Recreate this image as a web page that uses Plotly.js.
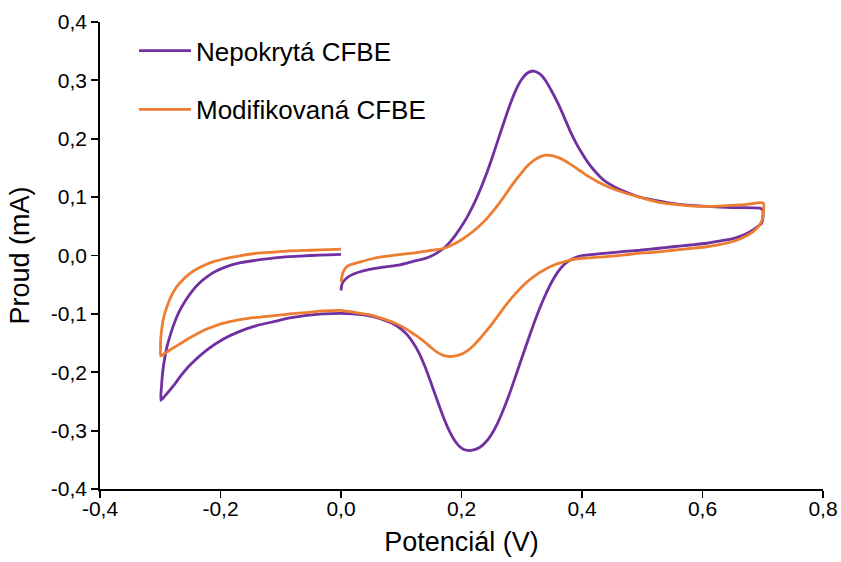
<!DOCTYPE html>
<html>
<head>
<meta charset="utf-8">
<script src="https://cdn.plot.ly/plotly-3.0.1.min.js"></script>
<style>html,body{margin:0;padding:0;background:#fff;}#chart{width:841px;height:562px;}</style>
</head>
<body>
<div id="chart"></div>
<script>
// Nepokrytá CFBE (purple): forward 0 -> 0.7, reverse 0.7 -> -0.3, forward -0.3 -> 0
const nepokrytaX = [0.000,0.002,0.009,0.020,0.042,0.070,0.098,0.120,0.140,0.150,0.160,0.170,0.180,0.190,0.200,0.210,0.220,0.230,0.240,0.250,0.260,0.270,0.280,0.290,0.300,0.310,0.320,0.330,0.340,0.350,0.360,0.370,0.380,0.390,0.400,0.410,0.420,0.430,0.440,0.455,0.470,0.496,0.524,0.551,0.580,0.607,0.650,0.695,0.700,
  0.700,0.698,0.692,0.684,0.670,0.651,0.630,0.607,0.580,0.551,0.524,0.496,0.470,0.441,0.420,0.410,0.400,0.390,0.380,0.370,0.360,0.350,0.340,0.330,0.320,0.310,0.300,0.290,0.280,0.270,0.260,0.250,0.240,0.230,0.220,0.210,0.200,0.190,0.180,0.170,0.160,0.150,0.140,0.130,0.120,0.110,0.100,0.090,0.080,0.065,0.045,0.020,0.000,-0.030,-0.060,-0.085,-0.110,-0.140,-0.168,-0.195,-0.223,-0.251,-0.265,-0.278,-0.290,-0.296,-0.299,
  -0.298,-0.296,-0.293,-0.289,-0.283,-0.276,-0.268,-0.258,-0.247,-0.235,-0.222,-0.208,-0.190,-0.170,-0.140,-0.110,-0.085,-0.050,-0.020,0.000];
const nepokrytaY = [-0.060,-0.048,-0.039,-0.032,-0.025,-0.020,-0.016,-0.010,-0.005,-0.001,0.005,0.012,0.022,0.035,0.050,0.067,0.087,0.110,0.136,0.165,0.196,0.227,0.257,0.283,0.302,0.313,0.316,0.311,0.299,0.281,0.261,0.238,0.214,0.193,0.175,0.159,0.146,0.135,0.126,0.117,0.110,0.100,0.094,0.089,0.086,0.084,0.082,0.081,0.078,
  0.062,0.055,0.050,0.044,0.036,0.029,0.025,0.021,0.018,0.015,0.012,0.009,0.007,0.004,0.002,0.001,0.000,-0.003,-0.008,-0.016,-0.028,-0.045,-0.066,-0.090,-0.117,-0.146,-0.176,-0.206,-0.236,-0.263,-0.287,-0.306,-0.320,-0.329,-0.333,-0.334,-0.330,-0.319,-0.301,-0.277,-0.249,-0.220,-0.192,-0.168,-0.150,-0.136,-0.126,-0.119,-0.114,-0.108,-0.103,-0.100,-0.099,-0.100,-0.103,-0.107,-0.113,-0.120,-0.130,-0.143,-0.162,-0.188,-0.205,-0.223,-0.238,-0.245,-0.248,
  -0.225,-0.200,-0.178,-0.157,-0.135,-0.114,-0.095,-0.077,-0.061,-0.047,-0.036,-0.027,-0.019,-0.013,-0.008,-0.004,-0.002,0.000,0.001,0.002];

// Modifikovaná CFBE (orange)
const modifikovanaX = [0.000,0.001,0.003,0.007,0.015,0.032,0.050,0.070,0.100,0.125,0.150,0.170,0.180,0.190,0.200,0.210,0.220,0.230,0.240,0.250,0.260,0.270,0.280,0.290,0.300,0.310,0.320,0.330,0.340,0.350,0.360,0.370,0.380,0.390,0.400,0.410,0.420,0.430,0.445,0.469,0.495,0.524,0.550,0.579,0.607,0.635,0.670,0.701,
  0.701,0.699,0.693,0.684,0.670,0.651,0.630,0.607,0.580,0.551,0.524,0.496,0.470,0.441,0.410,0.400,0.390,0.380,0.370,0.360,0.350,0.340,0.330,0.320,0.310,0.300,0.290,0.280,0.270,0.260,0.250,0.240,0.230,0.220,0.210,0.200,0.190,0.180,0.170,0.160,0.150,0.140,0.130,0.120,0.110,0.100,0.090,0.080,0.065,0.045,0.020,0.000,-0.030,-0.060,-0.085,-0.110,-0.140,-0.168,-0.195,-0.210,-0.223,-0.237,-0.251,-0.265,-0.278,-0.290,-0.299,
  -0.2995,-0.299,-0.297,-0.294,-0.289,-0.282,-0.273,-0.262,-0.251,-0.237,-0.223,-0.210,-0.195,-0.170,-0.140,-0.110,-0.085,-0.050,-0.020,0.000];
const modifikovanaY = [-0.045,-0.039,-0.030,-0.022,-0.016,-0.011,-0.006,-0.002,0.002,0.005,0.009,0.012,0.016,0.021,0.027,0.034,0.042,0.051,0.061,0.073,0.086,0.100,0.115,0.129,0.142,0.154,0.163,0.169,0.172,0.171,0.168,0.163,0.157,0.150,0.143,0.136,0.130,0.124,0.117,0.108,0.100,0.092,0.088,0.085,0.084,0.085,0.087,0.090,
  0.075,0.061,0.050,0.041,0.032,0.024,0.019,0.015,0.012,0.009,0.006,0.004,0.001,-0.002,-0.004,-0.005,-0.006,-0.008,-0.011,-0.014,-0.018,-0.023,-0.029,-0.036,-0.044,-0.054,-0.065,-0.077,-0.090,-0.104,-0.118,-0.131,-0.143,-0.154,-0.163,-0.169,-0.172,-0.173,-0.171,-0.166,-0.158,-0.149,-0.141,-0.134,-0.127,-0.121,-0.116,-0.112,-0.107,-0.101,-0.097,-0.094,-0.095,-0.098,-0.100,-0.103,-0.106,-0.110,-0.116,-0.121,-0.126,-0.133,-0.141,-0.150,-0.158,-0.166,-0.172,
  -0.155,-0.140,-0.122,-0.105,-0.088,-0.070,-0.054,-0.041,-0.031,-0.022,-0.015,-0.010,-0.006,-0.001,0.004,0.006,0.008,0.009,0.010,0.011];

const xTickVals = [-0.4,-0.2,0.0,0.2,0.4,0.6,0.8];
const xTickText = ["-0,4","-0,2","0,0","0,2","0,4","0,6","0,8"];
const yTickVals = [-0.4,-0.3,-0.2,-0.1,0.0,0.1,0.2,0.3,0.4];
const yTickText = ["-0,4","-0,3","-0,2","-0,1","0,0","0,1","0,2","0,3","0,4"];

const seriesNames = ["Nepokrytá CFBE","Modifikovaná CFBE"];
const xTitle = "Potenciál (V)";
const yTitle = "Proud (mA)";

const FONT = "Liberation Sans, Arial, sans-serif";

const traces = [
  {x: nepokrytaX, y: nepokrytaY, name: seriesNames[0], type: "scatter", mode: "lines",
   line: {color: "#7030A0", width: 2.8, shape: "spline", smoothing: 0.6}, legendgroup: "a"},
  {x: modifikovanaX, y: modifikovanaY, name: seriesNames[1], type: "scatter", mode: "lines",
   line: {color: "#ED7D31", width: 2.8, shape: "spline", smoothing: 0.6}, legendgroup: "b"}
];

const axisCommon = {
  showgrid: false, zeroline: false, showline: true, linecolor: "#000", linewidth: 1.8,
  ticks: "outside", ticklen: 7, tickwidth: 1.8, tickcolor: "#000",
  tickfont: {family: FONT, size: 21, color: "#000"}, tickmode: "array"
};

const layout = {
  width: 841, height: 562,
  margin: {l: 100, r: 18, t: 22, b: 73},
  paper_bgcolor: "#fff", plot_bgcolor: "#fff",
  font: {family: FONT, color: "#000"},
  showlegend: true,
  legend: {x: 0.047, xanchor: "left", y: 0.989, yanchor: "top", bgcolor: "rgba(0,0,0,0)",
           font: {family: FONT, size: 26, color: "#000"}, traceorder: "grouped", tracegroupgap: 22,
           itemwidth: 52},
  xaxis: Object.assign({}, axisCommon, {range: [-0.4, 0.8], tickvals: xTickVals, ticktext: xTickText,
    ticklabelstandoff: -7,
    title: {text: xTitle, font: {family: FONT, size: 27, color: "#000"}, standoff: 13}}),
  yaxis: Object.assign({}, axisCommon, {range: [-0.4, 0.4], tickvals: yTickVals, ticktext: yTickText,
    title: {text: yTitle, font: {family: FONT, size: 27, color: "#000"}, standoff: 13}})
};

Plotly.newPlot("chart", traces, layout, {displayModeBar: false, staticPlot: true});
</script>
</body>
</html>
